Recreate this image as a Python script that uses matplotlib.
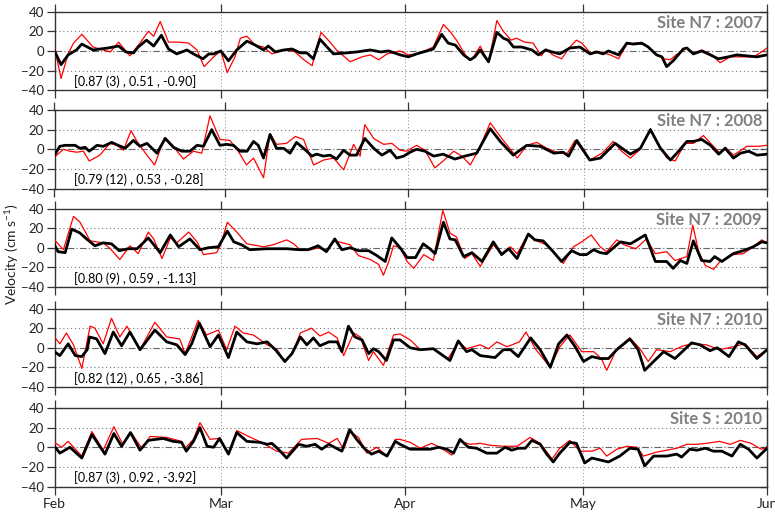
"""Velocity time series at two mooring sites, Feb-Jun, five stacked panels."""

from datetime import datetime

import matplotlib
matplotlib.use("Agg")
import matplotlib.dates as mdates
import matplotlib.pyplot as plt
import numpy as np

plt.rcParams["font.family"] = ["Lato", "DejaVu Sans"]

# panel titles, years and statistics text
TITLES = ["Site N7 : 2007", "Site N7 : 2008", "Site N7 : 2009", "Site N7 : 2010", "Site S : 2010"]
YEARS = [2007, 2008, 2009, 2010, 2010]
STATS = [
    "[0.87 (3) , 0.51 , -0.90]",
    "[0.79 (12) , 0.53 , -0.28]",
    "[0.80 (9) , 0.59 , -1.13]",
    "[0.82 (12) , 0.65 , -3.86]",
    "[0.87 (3) , 0.92 , -3.92]",
]

# series: days since Feb 1 and velocity (cm/s)
# --- Site N7 2007 ---
n7_2007_black_day = [0, 1.1, 2.3, 3.7, 4.6, 6.5, 7.7, 9, 10.8, 12, 13.3, 14.1, 15.5, 16.7, 18, 19.2,
                     20.6, 22.3, 23.4, 25, 26, 26.8, 28, 29.3, 30.7, 32.4, 33.8, 35.2, 36, 37.2, 38.6,
                     40, 41.4, 42.5, 43.6, 44.7, 45.9, 47, 49.2, 50.9, 53.2, 54.9, 56.3, 58.2, 59.6,
                     61, 62.7, 63.8, 65.2, 66.3, 67.5, 68.9, 70, 70.8, 71.7, 73.1, 74.5, 75.6, 76.4,
                     77.3, 78.7, 80.4, 81.5, 82.7, 83.8, 85.1, 86.8, 88.5, 90.2, 91.3, 92.4, 93.3, 95,
                     96.4, 97.5, 98.9, 100, 101.4, 102.3, 103.1, 104.2, 105.9, 106.5, 107.6, 109,
                     110.1, 111.8, 113.5, 114.9, 116.6, 118.3, 120]
n7_2007_black = [0, -14, -4, 1, 7, 1, 2, 3, 5, -1, -2, 4, 11, 5, 16, 2,
                 -3, 1, -3, -8, -3, -3, 0, -10, 1, 10, 6, 1, 5, -1, 1,
                 2, -2, -2, -8, 12, 4, -3, -2, -1, 1, -1, 0, -4, -6,
                 -3, 0, 2, 17, 8, 6, -4, -9, -6, 1, -11, 19, 13, 11,
                 4, 4, 1, -4, 1, -1, -3, 3, 4, -3, -1, -3, 0, -4,
                 8, 7, 8, 4, -4, -6, -16, -10, 2, 3, -3, 0,
                 -3, -8, -6, -4, -5, -6, -4]
n7_2007_red_day = [0, 1.1, 2.3, 3.2, 4.6, 6.5, 8.2, 9.4, 10.8, 12.7, 14.4, 15.8, 16.7, 17.8, 19.2,
                   20.9, 22.6, 24, 25.2, 26.8, 28, 29.1, 30.4, 31.3, 32.4, 33.8, 35.2, 36.6, 38.6,
                   40.3, 42, 43.4, 44, 44.9, 46.4, 47.5, 49.8, 51.8, 53.2, 54.6, 56, 58.2, 59.6, 61,
                   62.7, 63.8, 65.5, 66.6, 67.7, 69.4, 70.3, 71.7, 73.1, 74.5, 75.6, 76.9, 77.8, 79.2,
                   80.6, 82, 82.8, 83.9, 85.4, 86.8, 87.9, 88.8, 90.4, 91.9, 93.6, 95, 96.4, 98.1,
                   99.5, 101.2, 102.6, 103.7, 104.7, 106.5, 107.6, 109, 110.7, 112.1, 113.8, 115.5,
                   117.7, 119.1, 120]
n7_2007_red = [4, -28, -3, 8, 17, 4, 1, -1, 9, -5, 8, 20, 15, 30, 9,
               9, 8, 1, -16, -6, 0, -22, -6, 13, 15, 6, 4, -3, 1,
               0, -9, -15, 1, 19, 9, 1, -11, -6, -4, -9, -3, 0, -4, -3,
               1, 4, 27, 20, 11, -6, -9, 5, -12, 31, 20, 11, 13, 9,
               8, -5, 2, -4, -8, 4, 11, 8, -3, -1, -4, -8, 7, 8,
               6, -3, -8, -9, -4, 3, -3, 1, -4, -12, -6, -6,
               -6, -1, 3]

# --- Site N7 2008 ---
n7_2008_black_day = [0, 0.9, 1.8, 3.5, 4.3, 5.2, 5.9, 7.2, 8.3, 9.7, 10.8, 12, 13.4, 14.5, 15.7, 17.4,
                     18.8, 20.2, 21.6, 23, 24.2, 25.3, 26.7, 28.1, 29.2, 30.4, 31.5, 32.7, 33.8, 34.6,
                     35.5, 36.6, 37.7, 38.9, 40, 41.1, 42.3, 43.7, 44.5, 45.7, 46.8, 47.9, 49.1, 50.2,
                     51.3, 52.7, 54.2, 55.6, 57, 58.1, 59.3, 60.4, 61.5, 62.9, 64.4, 66, 68, 69.7,
                     71.7, 74, 75.7, 77.9, 80.2, 82.5, 84.8, 86.4, 87.3, 88.7, 90.9, 92.7, 95.2, 97.8,
                     99.5, 101.2, 102.9, 104.6, 105.7, 107.4, 108.5, 109.9, 111.4, 112.8, 113.9, 115.3,
                     116.5, 117.9, 119.3, 121]
n7_2008_black = [-6, 3, 4, 4, 1, 2, -2, 4, 3, 7, 4, 1, 9, 3, 6, -4,
                 11, 2, -2, -2, 4, 3, 20, 4, 5, 4, -2, -2, 8, 4,
                 -9, 15, 1, 1, -4, 7, 1, -7, -5, -7, -6, -10, -1, -6,
                 -6, 11, 1, -6, -1, -9, -7, -3, 0, -2, -7, -5, -10, -7,
                 -4, 21, 8, -6, 4, 3, -4, -3, -7, 9, -11, -9, 6, -5,
                 1, 20, 1, -11, -4, 8, 8, 10, 4, -5, 1, -9,
                 -4, -2, -6, -5]
n7_2008_red_day = [0, 1.5, 2.6, 3.8, 4.9, 5.9, 7.7, 9.4, 10.6, 11.7, 13, 13.9, 15.7, 17, 18.7, 19.9,
                   21.9, 23.6, 25, 26.4, 28.1, 29.8, 31.2, 32.6, 33.8, 35.5, 36.6, 37.7, 39.4, 40.9,
                   42.3, 44, 45.7, 47.4, 49.1, 50.8, 51.9, 52.7, 54.2, 55.9, 57.3, 58.7, 59.8, 61.5,
                   62.9, 64.6, 66, 67.8, 69.2, 70.6, 72, 74, 75.7, 78.6, 80.2, 81.9, 83.6, 85.3, 87,
                   88.4, 90.9, 93, 94.9, 96.3, 97.8, 99.5, 101.2, 102.6, 104, 105.4, 107.1, 108.5,
                   110.2, 111.9, 113, 113.9, 115.3, 117.6, 119.6, 121]
n7_2008_red = [-8, 0, -2, -3, -2, -12, -6, 6, 4, -1, 19, 9, -6, -16, 12, 5,
               -10, -2, -4, 34, 10, 9, -2, -16, -9, -29, 16, 5, 6, 13,
               10, -16, -11, -9, -21, 5, -7, 25, 11, 5, 6, -1, -2, 4,
               -1, -19, -12, -2, -7, -16, -1, 27, 13, -9, 4, 7, 1, -3, -5,
               9, -11, -4, 8, -2, -9, 0, 21, 4, -9, -12, 6, 6,
               14, 3, -4, 2, -6, 3, 3, 4]

# --- Site N7 2009 ---
n7_2009_black_day = [0, 0.6, 1.8, 2.9, 4.3, 5.4, 6.8, 8.2, 9.6, 10.9, 12.4, 13.9, 15.8, 17.8, 19.5,
                     20.9, 22.8, 24.5, 25.9, 27.6, 29.1, 30.2, 31.5, 32.9, 35.8, 39.1, 41.3, 42.7,
                     44.4, 45.8, 47.2, 48.4, 49.8, 51.2, 52.9, 54.3, 55.7, 56.8, 58.2, 59.4, 60.8,
                     62.1, 63.2, 64.1, 65.5, 66.6, 67.5, 68.9, 70.3, 72, 73.9, 75.3, 76.5, 77.9, 79.8,
                     80.9, 82.3, 84, 85.4, 87.1, 88.5, 89.6, 90.8, 91.9, 93, 95.3, 97, 99.5, 101.2,
                     103.1, 104.2, 105.4, 106.5, 107.6, 109, 110.4, 111.2, 112.4, 114.3, 116, 117.7,
                     119.1, 120]
n7_2009_black = [3, -4, -5, 19, 15, 9, 2, 5, 4, -3, -1, -1, 10, -5, 13,
                 1, 9, -2, 0, 1, 17, 6, 3, -2, -1, -1, -2, -2,
                 2, -4, 9, -2, 0, -3, -3, -8, -14, 10, 0, -10, -10,
                 4, -1, -6, 26, 9, 8, -9, -5, -14, 6, -7, -1, -11, 14,
                 8, 7, -4, -14, -3, -7, -7, -2, -5, -6, 6, 4, 13, -14,
                 -14, -21, -13, -16, 7, -13, -14, -9, -14, -6, -3, 1,
                 6, 5]
n7_2009_red_day = [0, 1.5, 3.2, 4.3, 6, 8.2, 9.4, 11, 12.7, 14.1, 15.8, 16.7, 18.1, 19.5, 20.6,
                   22.6, 24, 25.1, 27.3, 28, 29.1, 30.7, 32.4, 35.2, 36.8, 39.1, 40.3, 41.3, 43.2,
                   44.4, 45.8, 47.2, 49.8, 51.2, 53.2, 54.6, 55.4, 56.3, 57.1, 58.2, 59.4, 60.5,
                   62.2, 63.8, 65.4, 66.6, 67.7, 69.1, 70.3, 71.7, 73.9, 75.3, 76.8, 77.9, 79.8,
                   81.2, 82.9, 84.6, 85.7, 87.4, 88.8, 90.4, 91.9, 93, 94.7, 95.9, 97.9, 99.7, 101.2,
                   103.1, 104.5, 106.5, 107.5, 108.5, 109.6, 111, 112.1, 114.3, 116, 117.7, 119.1, 120]
n7_2009_red = [8, -2, 32, 26, 7, 5, -1, -12, 2, -6, 16, 9, -11, 10, 5,
               16, 6, -7, -5, 3, 26, 16, 4, 1, 3, 8, 4, -2, -2,
               0, -3, 7, 3, -8, -12, -17, -28, -14, 2, 0, -14, -21,
               -7, -13, 38, 15, 11, -11, -6, -19, 3, -6, 1, -6, 14,
               7, 3, -9, -16, 1, 6, 13, 1, -4, 8, 3, -1, 9, -6,
               -4, -13, -9, 23, -4, -18, -22, -14, -7, -6, 1, 8, 5]

# --- Site N7 2010 ---
n7_2010_black_day = [0, 0.9, 2.3, 3.5, 4.6, 5.5, 5.9, 7.1, 8.5, 9.9, 11.3, 12.7, 14.4, 16.9, 18.9,
                     20.6, 22, 23.1, 24.4, 26.2, 27.6, 29.3, 30.7, 32.4, 34.1, 35.8, 37.2, 38.8, 40,
                     41.4, 42.5, 43.6, 44.7, 46.2, 47.6, 48.4, 49.5, 50.6, 51.8, 52.9, 53.7, 54.6,
                     55.9, 57.1, 58.2, 59.9, 61.6, 63.8, 66.6, 68, 69.4, 70.3, 71.7, 74.2, 75.6, 76.8,
                     78.1, 80.2, 81.8, 83.5, 84.9, 86.3, 87.7, 89.1, 90.5, 91.9, 93.3, 94.7, 96.9,
                     98.3, 99.4, 100.9, 102.6, 104.5, 107.3, 108.7, 110.4, 111.6, 113.6, 115.2, 116.3,
                     118.3, 120]
n7_2010_black = [-4, -8, 4, -8, -9, -2, 11, 9, -6, 16, 2, 16, -2, 18, 6,
                 3, -7, 4, 25, 1, 13, -10, 16, 6, 4, 6, -2, -14, -6,
                 11, 3, 10, 2, 6, 6, -4, 22, 11, 8, -6, -1, -4,
                 -13, 8, 8, 0, -2, -1, -13, 7, -4, -2, -8, -10, -2, -2,
                 -9, 10, -2, -20, 4, 13, 1, -14, -9, -11, -11, -2, 9,
                 -2, -23, -14, -4, -11, 5, 3, -3, 0, -9, 6, 3,
                 -11, -2]
n7_2010_red_day = [0, 0.9, 2, 3.2, 4.6, 6, 6.8, 8.2, 9.6, 11, 12.2, 14.4, 16.9, 18.9, 21.1, 22,
                   24.2, 25.6, 27.6, 29, 30.4, 31.8, 33.5, 35.8, 37.5, 38.8, 40.3, 41.4, 43.3, 44.7,
                   46.2, 47.6, 48.7, 50.4, 51.5, 52.9, 53.7, 55.4, 57.1, 58.2, 59.9, 61.6, 63.8,
                   66.3, 68, 69.4, 71.7, 73.1, 74.5, 76.2, 78.3, 79.4, 81.1, 83.5, 85.1, 86.8, 88.8,
                   90.8, 92.1, 93, 94.7, 96.9, 98.6, 100, 101.4, 103.7, 105.9, 107.6, 109.8, 112,
                   114.3, 116.3, 118.3, 120]
n7_2010_red = [11, 4, 15, 3, -21, 22, 20, 4, 30, 11, 22, -2, 26, 11, 9, -6,
               28, 13, 18, -2, 22, 15, 13, 3, -2, -15, -2, 15, 20, 12,
               16, 10, -8, 15, 11, -13, -4, -18, 13, 14, 8, -2, -1,
               -11, 6, -1, 3, -1, 6, 1, 6, 16, -2, -20, 1, 13, -4,
               -4, -11, -23, -1, 10, -1, -14, -2, -4, 2, 4, 3, -2,
               1, 4, -9, -2]

# --- Site S 2010 ---
s_2010_black_day = [0, 0.9, 2.6, 4.6, 6.3, 8.5, 10, 11.3, 12.8, 14.4, 15.8, 18.3, 20, 21.4, 22.2,
                    23.4, 24.5, 25.7, 26.8, 27.8, 29.3, 30.7, 32.4, 34.6, 35.8, 36.6, 37.7, 39.1,
                    41.1, 42.5, 43.9, 45, 46.2, 48.4, 49.7, 50.9, 52.3, 53.4, 54.6, 56, 57.4, 58.2,
                    59.9, 61.6, 63.3, 64.7, 66.1, 67.2, 68.3, 69.7, 71.1, 72.8, 74.5, 75.9, 77, 78.1,
                    79.3, 80.4, 81.8, 82.9, 84, 85.1, 86.8, 87.9, 89.3, 90.5, 91.9, 93.3, 95.2, 96.9,
                    98.3, 99.4, 100.9, 103.1, 104.8, 105.6, 107, 108.2, 109.6, 111, 112.4, 114.1,
                    115.5, 116.9, 118.3, 120]
s_2010_black = [1, -6, 0, -11, 13, -7, 14, 1, 15, -3, 7, 9, 6, 5, -4,
                6, 20, 1, 0, 9, -7, 15, 6, 5, 3, 4, -2, -11,
                3, 1, 3, -2, 3, -4, 18, 8, -2, -7, -4, -9, 6, 3,
                -2, -2, -2, 0, -2, -6, 8, 0, -1, -6, -6, 0, -3, -1,
                -1, 7, 3, -7, -15, -6, 5, 4, -16, -11, -13, -15, -9, -1,
                -2, -19, -9, -9, -7, -10, -2, -3, -1, -4, -4, -9,
                3, -2, -11, -1]
s_2010_red_day = [0, 1.2, 2.3, 4.6, 6.3, 8.2, 10, 11.5, 12.9, 14.7, 16.1, 18.9, 21.4, 22, 23.4,
                  24.5, 26.2, 27.6, 29.3, 30.7, 32.7, 35.2, 37.4, 39.4, 41.6, 44.2, 46.2, 47.6,
                  48.7, 49.8, 51.2, 52.6, 54.3, 56, 57.4, 58.2, 59.9, 61.6, 63.5, 65.2, 66.9, 68.3,
                  70, 71.7, 73.4, 75.6, 77.9, 80.1, 81.8, 83.8, 85.1, 86.8, 88.5, 90.5, 91.9, 93,
                  94.7, 96.4, 98.1, 99.2, 101.4, 103.1, 104.8, 106.5, 108.2, 109.8, 112, 113.8,
                  115.5, 117.3, 119, 120]
s_2010_red = [5, 0, 6, -9, 16, -3, 21, 3, 15, -1, 11, 10, 6, -1, 8,
              25, 8, 9, -6, 17, 11, 4, -4, -6, 8, 9, 4, 9,
              -2, 16, 10, -6, 0, -9, 8, 8, 5, -1, 4, -1, -8, 6,
              3, 4, 2, 1, 1, 10, 4, -12, -1, 7, -4, -4, -1, -9,
              -2, 1, 0, -9, -5, -3, -1, 3, 3, 4, 6, 3,
              7, 4, -2, 0]

BLACK_DAYS = [n7_2007_black_day, n7_2008_black_day, n7_2009_black_day, n7_2010_black_day, s_2010_black_day]
BLACK_VALS = [n7_2007_black, n7_2008_black, n7_2009_black, n7_2010_black, s_2010_black]
RED_DAYS = [n7_2007_red_day, n7_2008_red_day, n7_2009_red_day, n7_2010_red_day, s_2010_red_day]
RED_VALS = [n7_2007_red, n7_2008_red, n7_2009_red, n7_2010_red, s_2010_red]

W, H = 775, 513
fig = plt.figure(figsize=(W / 100, H / 100), dpi=100)

LEFT, RIGHT = 54.5, 767.0
PANEL_TOPS = [11.7, 110.0, 208.5, 308.5, 408.0]
PANEL_H = 78.5
FRAME = "#333333"

for i, year in enumerate(YEARS):
    top = PANEL_TOPS[i]
    ax = fig.add_axes([LEFT / W, 1 - (top + PANEL_H) / H, (RIGHT - LEFT) / W, PANEL_H / H])
    t0 = mdates.date2num(datetime(year, 2, 1))

    ax.axhline(0, color="#666666", lw=0.8, ls=(0, (6, 2, 1, 2)), zorder=1)
    for yv in (-20, 20):
        ax.axhline(yv, color="#777777", lw=0.8, ls=(0, (1, 2.5)), zorder=1)

    ax.plot(t0 + np.asarray(RED_DAYS[i]), RED_VALS[i], color="#ff0000", lw=0.9, zorder=3,
            solid_joinstyle="round")
    ax.plot(t0 + np.asarray(BLACK_DAYS[i]), BLACK_VALS[i], color="black", lw=2.0, zorder=4,
            solid_joinstyle="round")

    ax.set_xlim(t0, mdates.date2num(datetime(year, 6, 1)))
    ax.set_ylim(-40, 40)
    ax.set_yticks([-40, -20, 0, 20, 40])
    ax.xaxis.set_major_locator(mdates.MonthLocator())
    ax.xaxis.set_major_formatter(mdates.DateFormatter("%b"))
    ax.grid(True, axis="x", color="#888888", lw=0.7, ls=(0, (1, 2.5)))

    for sp in ax.spines.values():
        sp.set_color(FRAME)
        sp.set_linewidth(1.0)
    ax.tick_params(axis="y", direction="out", length=6, width=0.9, color=FRAME,
                   labelsize=9.5, labelcolor="#222222", pad=1.5)
    ax.tick_params(axis="x", direction="out", length=6, width=0.9, color=FRAME,
                   top=True, labelsize=10, labelcolor="#222222", pad=2)
    if i < len(YEARS) - 1:
        ax.tick_params(axis="x", labelbottom=False)

    # inward ticks on the right edge
    sec = ax.secondary_yaxis("right")
    sec.set_yticks([-40, -20, 0, 20, 40])
    sec.tick_params(direction="in", length=5, width=0.9, color=FRAME, labelright=False)
    sec.spines["right"].set_color(FRAME)

    ax.text(0.993, 0.96, TITLES[i], transform=ax.transAxes, ha="right", va="top",
            fontsize=12, fontweight="bold", color="#808080")
    ax.text(0.027, -31, STATS[i], transform=ax.get_yaxis_transform(), ha="left", va="center",
            fontsize=9, color="black")

fig.text(0.015, 0.505, "Velocity (cm s$^{\\mathregular{-1}}$)", rotation=90, ha="center",
         va="center", fontsize=10, color="#222222")

fig.savefig("out.png", dpi=100)
